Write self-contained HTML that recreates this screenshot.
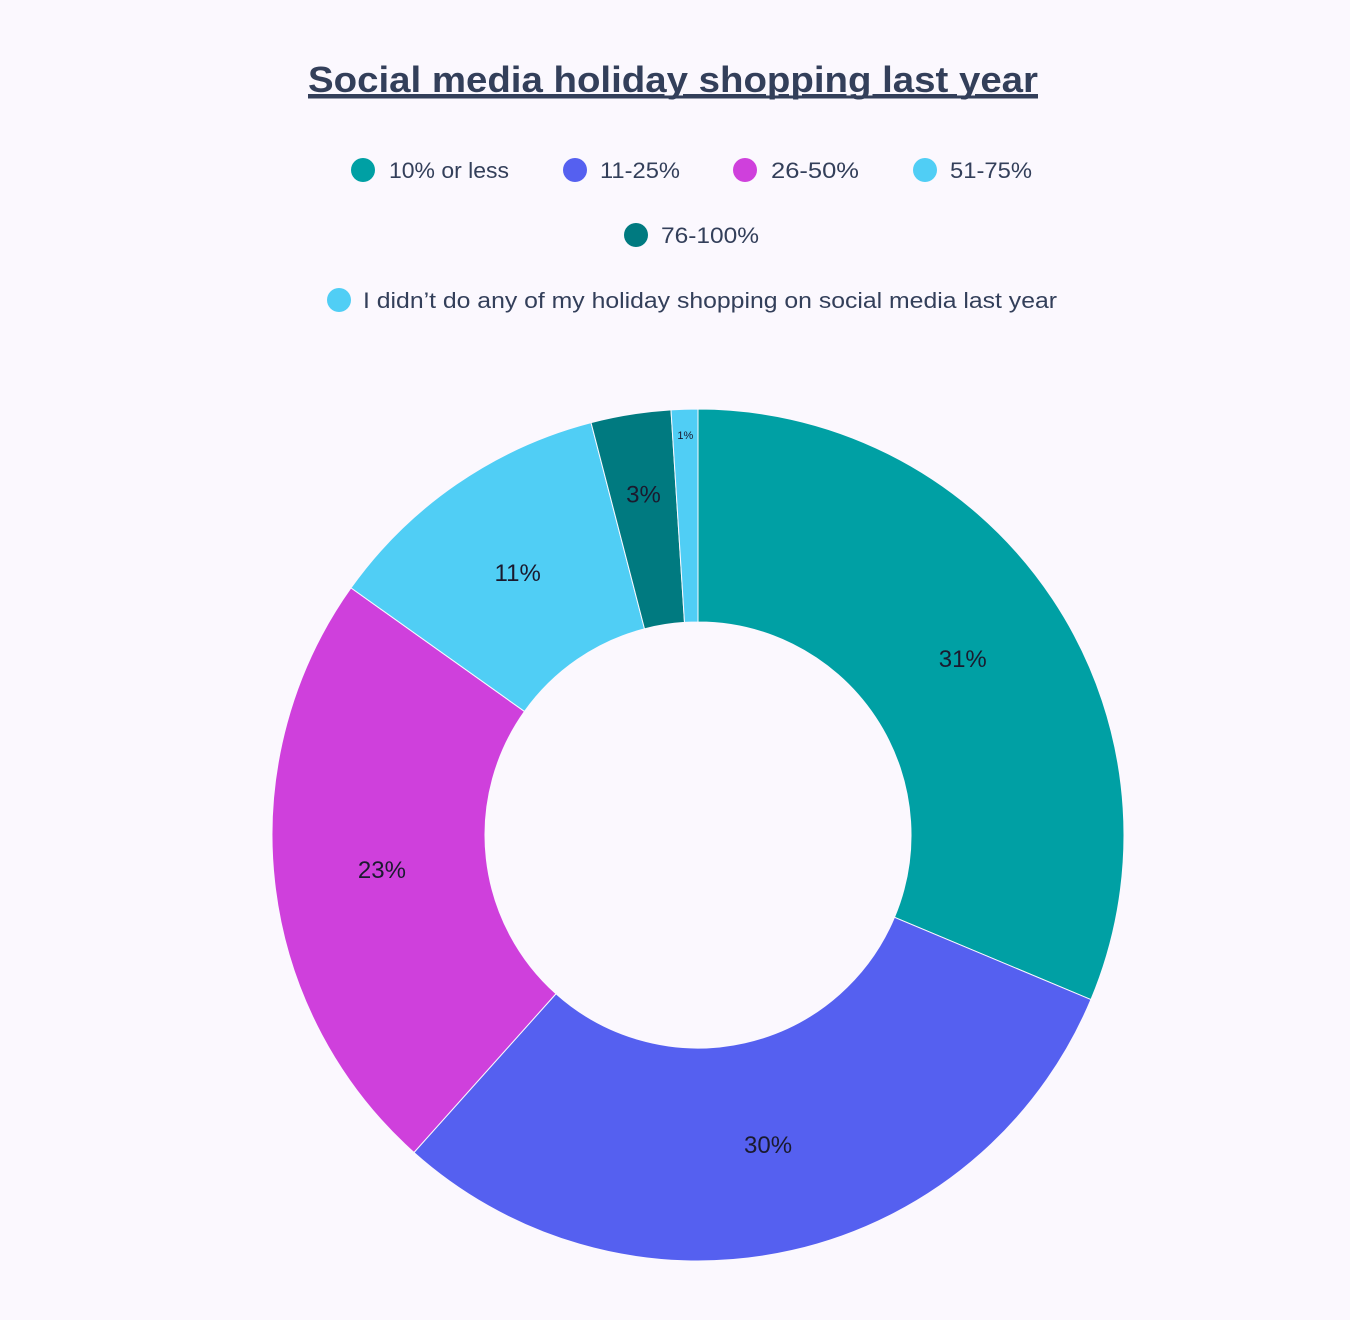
<!DOCTYPE html>
<html><head><meta charset="utf-8"><style>
body{margin:0;background:#fbf8fe;}
svg{display:block;font-family:"Liberation Sans",sans-serif;}
</style></head><body>
<svg id="chart" width="1350" height="1320">
<rect width="1350" height="1320" fill="#fbf8fe"/>
<text x="673" y="92" text-anchor="middle" font-size="36" font-weight="bold" fill="#333f5a" textLength="730" lengthAdjust="spacingAndGlyphs" text-decoration="underline">Social media holiday shopping last year</text>
<line x1="308" y1="97" x2="1038" y2="97" stroke="#333f5a" stroke-width="3"/>
<g id="legend">
<g><circle cx="363" cy="170" r="12" fill="#00a0a4"/><text x="389" y="178" font-size="22" fill="#333f5a" textLength="120" lengthAdjust="spacingAndGlyphs">10% or less</text></g>
<g><circle cx="575" cy="170" r="12" fill="#5560f0"/><text x="600" y="178" font-size="22" fill="#333f5a" textLength="80" lengthAdjust="spacingAndGlyphs">11-25%</text></g>
<g><circle cx="745" cy="170" r="12" fill="#cf40dc"/><text x="771" y="178" font-size="22" fill="#333f5a" textLength="88" lengthAdjust="spacingAndGlyphs">26-50%</text></g>
<g><circle cx="925" cy="170" r="12" fill="#50cef5"/><text x="950" y="178" font-size="22" fill="#333f5a" textLength="82" lengthAdjust="spacingAndGlyphs">51-75%</text></g>
<g><circle cx="636" cy="235" r="12" fill="#007a80"/><text x="661" y="243" font-size="22" fill="#333f5a" textLength="98" lengthAdjust="spacingAndGlyphs">76-100%</text></g>
<g><circle cx="339" cy="300" r="12" fill="#50cef5"/><text x="363" y="308" font-size="22" fill="#333f5a" textLength="694" lengthAdjust="spacingAndGlyphs">I didn’t do any of my holiday shopping on social media last year</text></g>
</g>
<g id="slices"></g>
<g id="labels"></g>
</svg>
<script>
const categories=["10% or less","11-25%","26-50%","51-75%","76-100%","I didn't do any of my holiday shopping on social media last year"];
const values=[31,30,23,11,3,1];
const colors=["#00a0a4","#5560f0","#cf40dc","#50cef5","#007a80","#50cef5"];
const cx=698,cy=835,R=426,r=213,NS="http://www.w3.org/2000/svg";
const total=values.reduce((a,b)=>a+b,0);
function pt(a,rad){return [cx+rad*Math.sin(a),cy-rad*Math.cos(a)];}
const sg=document.getElementById('slices'),lg=document.getElementById('labels');
let acc=0;
values.forEach((v,i)=>{
 const a0=acc/total*2*Math.PI;acc+=v;const a1=acc/total*2*Math.PI;
 const big=(a1-a0)>Math.PI?1:0;
 const [x0,y0]=pt(a0,R),[x1,y1]=pt(a1,R),[x2,y2]=pt(a1,r),[x3,y3]=pt(a0,r);
 const p=document.createElementNS(NS,'path');
 p.setAttribute('d',`M${x0},${y0}A${R},${R} 0 ${big} 1 ${x1},${y1}L${x2},${y2}A${r},${r} 0 ${big} 0 ${x3},${y3}Z`);
 p.setAttribute('fill',colors[i]);p.setAttribute('stroke','#fbf8fe');p.setAttribute('stroke-width','1');
 
 
 sg.appendChild(p);
 const am=(a0+a1)/2;const small=v<2;
 const [lx,ly]=pt(am,small?400:(v<5?345:318));
 const t=document.createElementNS(NS,'text');
 t.setAttribute('x',lx);t.setAttribute('y',ly+(small?4:8));
 t.setAttribute('text-anchor','middle');t.setAttribute('font-size',small?11:24);t.setAttribute('fill','#1a1a2e');
 t.textContent=Math.round(v/total*100)+'%';
 
 
 lg.appendChild(t);
});
</script>
</body></html>
